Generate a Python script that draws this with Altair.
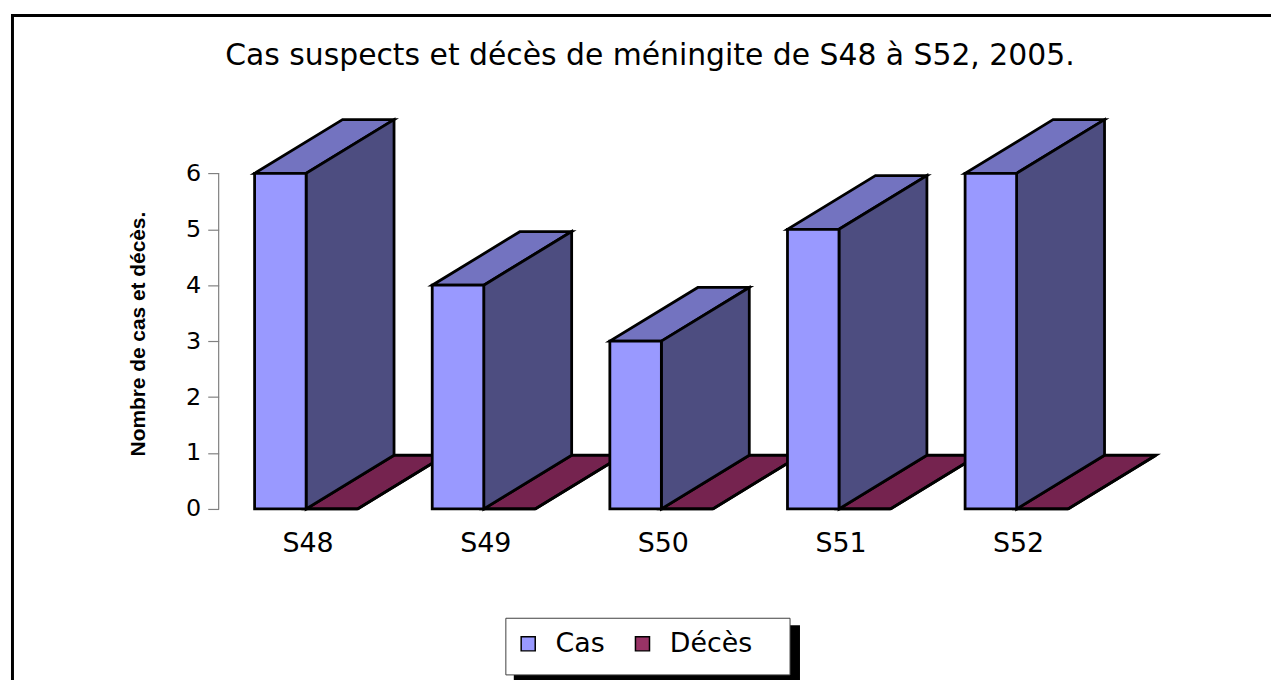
import altair as alt
import pandas as pd

# ---- data ----
weeks = ["S48", "S49", "S50", "S51", "S52"]
cas = [6, 4, 3, 5, 6]
deces = [0, 0, 0, 0, 0]
series_names = ["Cas", "Décès"]
y_ticks = [0, 1, 2, 3, 4, 5, 6]
title_text = "Cas suspects et décès de méningite de S48 à S52, 2005."
y_title = "Nombre de cas et décès."

# ---- style ----
front_colors = ["#9999FF", "#993366"]
side_colors = ["#4D4D80", "#4D1A33"]
top_colors = ["#7373C0", "#75234F"]
FONT = "DejaVu Sans"
W = 0.29      # bar width (category units)
DX = 0.495    # depth offset x (category units)
DY = 0.96     # depth offset y (value units)
EDGE = 2.8

front_rows, side_rows, top_rows = [], [], []
for i, wk in enumerate(weeks):
    for s, vals in ((series_names[0], cas), (series_names[1], deces)):
        v = vals[i]
        x0 = i - W if s == series_names[0] else i
        x1 = x0 + W
        key = f"{wk}-{s}"
        front_rows.append(dict(key=key, series=s, x=x0, x2=x1, y=0, y2=v))
        side_rows.append(dict(key=key, series=s, x=x1, lo=0, hi=v))
        side_rows.append(dict(key=key, series=s, x=x1 + DX, lo=DY, hi=v + DY))
        top_rows.append(dict(key=key, series=s, y=v, xa=x0, xb=x1))
        top_rows.append(dict(key=key, series=s, y=v + DY, xa=x0 + DX, xb=x1 + DX))

front_df = pd.DataFrame(front_rows)
side_df = pd.DataFrame(side_rows)
top_df = pd.DataFrame(top_rows)
label_df = pd.DataFrame({"week": weeks, "pos": list(range(len(weeks)))})
one = pd.DataFrame({"a": [0]})

xs = alt.Scale(domain=[-0.4923, 5.1021], nice=False, zero=False)
ys = alt.Scale(domain=[0, 7], nice=False, zero=False)
yaxis = alt.Axis(values=y_ticks, domain=False, grid=False, title=None,
                 tickColor="#808080", tickSize=11, tickWidth=1.2,
                 labelFont=FONT, labelFontSize=24, labelColor="black", labelPadding=7)

frame = alt.Chart(one).mark_rect(fillOpacity=0, stroke="black", strokeWidth=3).encode(
    x=alt.value(-207.5), x2=alt.value(1300), y=alt.value(-102.5), y2=alt.value(700)
)

top = alt.Chart(top_df).mark_area(orient="horizontal", stroke="black", strokeWidth=EDGE,
                                  fillOpacity=1, strokeJoin="miter").encode(
    y=alt.Y("y:Q", scale=ys, axis=yaxis, stack=None),
    x=alt.X("xa:Q", scale=xs, axis=None, stack=None),
    x2="xb:Q",
    detail="key:N",
    fill=alt.Fill("series:N", scale=alt.Scale(domain=series_names, range=top_colors), legend=None),
)

side = alt.Chart(side_df).mark_area(orient="vertical", stroke="black", strokeWidth=EDGE,
                                    fillOpacity=1, strokeJoin="miter").encode(
    x=alt.X("x:Q", scale=xs, axis=None, stack=None),
    y=alt.Y("lo:Q", scale=ys, axis=yaxis, stack=None),
    y2="hi:Q",
    detail="key:N",
    fill=alt.Fill("series:N", scale=alt.Scale(domain=series_names, range=side_colors), legend=None),
)

front = alt.Chart(front_df).mark_rect(stroke="black", strokeWidth=EDGE).encode(
    x=alt.X("x:Q", scale=xs, axis=None),
    x2="x2:Q",
    y=alt.Y("y:Q", scale=ys, axis=yaxis),
    y2="y2:Q",
    fill=alt.Fill("series:N", scale=alt.Scale(domain=series_names, range=front_colors),
                  legend=alt.Legend(orient="none", legendX=298, legendY=516, direction="horizontal",
                                    title=None, symbolType="square", symbolSize=200,
                                    symbolStrokeColor="black", symbolStrokeWidth=1.5,
                                    labelFont=FONT, labelFontSize=27, labelColor="black",
                                    labelOffset=14, columnPadding=24)),
)

axis_line = alt.Chart(one).mark_rule(color="#808080", strokeWidth=1.2).encode(
    x=alt.value(0), y=alt.datum(y_ticks[0], scale=ys, axis=yaxis), y2=alt.datum(y_ticks[-1])
)

xlabels = alt.Chart(label_df).mark_text(font=FONT, fontSize=27, baseline="alphabetic", align="center",
                                        color="black", dx=2).encode(
    x=alt.X("pos:Q", scale=xs, axis=None), y=alt.value(437), text="week:N"
)

title = alt.Chart(one).mark_text(text=title_text, font=FONT, fontSize=30, baseline="alphabetic",
                                 align="center", color="black").encode(
    x=alt.value(434), y=alt.value(-53)
)

ytitle = alt.Chart(one).mark_text(text=y_title, font="Liberation Sans",
                                  fontSize=21, fontWeight="bold", angle=270, align="center",
                                  baseline="middle", color="black").encode(
    x=alt.value(-80), y=alt.value(218)
)

legend_shadow = alt.Chart(one).mark_rect(fill="black").encode(
    x=alt.value(297), x2=alt.value(585), y=alt.value(511), y2=alt.value(574)
)
legend_box = alt.Chart(one).mark_rect(fill="white", stroke="#404040", strokeWidth=1).encode(
    x=alt.value(289), x2=alt.value(575), y=alt.value(504), y2=alt.value(561)
)

chart = alt.layer(
    frame, legend_shadow, legend_box, top, side, front, axis_line, xlabels, title, ytitle
).resolve_scale(fill="independent").properties(
    width=1000, height=394,
    autosize=alt.AutoSizeParams(type="none"),
    padding={"left": 212, "top": 108, "right": 59, "bottom": 170},
    background="white",
).configure_view(stroke=None)

chart.save("out.html", embed_options={"renderer": "svg", "actions": False})
